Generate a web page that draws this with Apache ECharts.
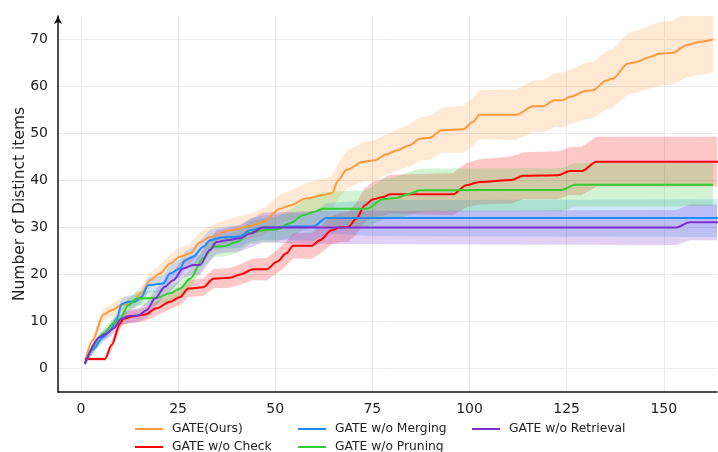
<!DOCTYPE html>
<html>
<head>
<meta charset="utf-8">
<script src="https://cdn.jsdelivr.net/npm/echarts@6/dist/echarts.min.js"></script>
<style>
  html, body { margin: 0; padding: 0; background: #fff; }
  #chart { width: 718px; height: 452px; }
</style>
</head>
<body>
<div id="chart"></div>
<script>
// [step, mean, spread]
const seriesNames = ['GATE(Ours)', 'GATE w/o Check', 'GATE w/o Merging', 'GATE w/o Pruning', 'GATE w/o Retrieval']
const seriesColors = ['#ff9a3c', '#ff0000', '#1e8cff', '#33cc33', '#7b2fcf']

const oursPts = [
  [1, 1, 0.5], [3, 6, 1], [5.8, 11.5, 1.3], [7.9, 12.4, 1.4], [10.5, 13.5, 1.5], [13, 13.9, 1.5],
  [15.6, 16, 1.6], [17.8, 18.8, 1.7], [20.3, 20.2, 1.8], [22.9, 22.3, 1.9], [25.5, 23.8, 2],
  [28.1, 24.5, 2.1], [30.6, 26.8, 2.2], [33.2, 28, 2.3], [38.3, 29.4, 2.5], [43.5, 30.3, 2.7],
  [46.9, 31.2, 2.9], [51.2, 34, 3], [53.8, 34.7, 3.1], [58.1, 36.2, 3.4], [62.3, 36.9, 3.5],
  [64.6, 37.3, 3.6], [66.2, 40, 3.8], [68.4, 42.3, 4], [72.6, 44, 4.2], [75.6, 44.3, 4.3],
  [78.7, 45.6, 4.3], [81.2, 46.4, 4.4], [84.6, 47.5, 4.5], [87.2, 48.9, 4.6], [89.8, 49.1, 4.7],
  [92.8, 50.7, 4.8], [98.4, 50.9, 5], [100.9, 52.5, 5.1], [102.6, 54, 5.2], [112, 54, 5.4],
  [116.4, 55.8, 5.5], [118.9, 55.8, 5.6], [121.9, 57.1, 5.7], [124.1, 57.1, 5.8], [125.8, 57.8, 5.8],
  [130.1, 59.1, 6], [131.8, 59.2, 6], [135.2, 61.3, 6.2], [136.9, 61.7, 6.3], [140.8, 64.9, 6.5],
  [143, 65.2, 6.6], [146.4, 66.3, 6.7], [149, 67, 6.8], [152.4, 67.2, 6.8], [155.8, 68.8, 6.9],
  [159.2, 69.5, 7], [162.7, 70, 7]
]

const noCheckPts = [
  [1, 2, 0.3], [6.2, 2, 0.4], [7.9, 5, 1], [10.1, 9.6, 1.2], [10.9, 10.6, 1.3], [13.5, 11.1, 1.3],
  [16.5, 11.5, 1.4], [19.5, 12.8, 1.5], [22.9, 14.2, 1.6], [25.5, 15.2, 1.7], [27.6, 17, 1.8],
  [31.5, 17.3, 1.9], [34.1, 19.1, 2], [38.3, 19.3, 2.1], [41, 20, 2.2], [44.3, 21.1, 2.3],
  [47.8, 21.1, 2.4], [50.4, 22.7, 2.5], [52.9, 24.5, 2.6], [54.6, 26.1, 2.7], [59.4, 26.1, 2.8],
  [61.5, 27.3, 2.9], [64.5, 29.4, 3], [66.6, 30, 3.1], [68.8, 30.1, 3.2], [70.9, 31.9, 3.4],
  [73, 34.7, 3.6], [75.2, 36, 3.8], [77.8, 36.5, 4], [79.5, 37.1, 4.1], [95.8, 37.1, 4.5],
  [99.2, 39, 4.7], [102.6, 39.7, 4.8], [110.8, 40.1, 5], [113.8, 41, 5], [122.8, 41.1, 5.1],
  [125.8, 42, 5.1], [128.8, 42, 5.2], [132.7, 44, 5.3], [165, 44, 5.3]
]

const noMergingPts = [
  [1, 1, 0.4], [3, 4, 0.8], [5.8, 6.7, 1], [7.5, 8.1, 1.1], [9.2, 10.6, 1.2], [10.5, 13.7, 1.3],
  [12.2, 14.2, 1.4], [13.9, 14.2, 1.4], [15.6, 15.2, 1.5], [17.3, 17.7, 1.6], [21.2, 18.1, 1.7],
  [22.9, 20.2, 1.8], [25.5, 21.3, 1.9], [26.8, 23, 2], [28.9, 23.8, 2], [31.5, 25.9, 2.1],
  [33.2, 27.3, 2.2], [36.6, 27.9, 2.3], [40.9, 28.1, 2.4], [43.5, 29.4, 2.5], [46.9, 30, 2.6],
  [50.4, 30, 2.7], [52.1, 30.2, 2.8], [59.8, 30.2, 3], [63.2, 32, 3.2], [75, 32, 3.8], [165, 32, 4]
]

const noPruningPts = [
  [1, 1, 0.4], [5.8, 7.4, 1], [8.3, 9.6, 1.2], [10.1, 10.6, 1.3], [12.2, 13.5, 1.4], [14.4, 14.9, 1.5],
  [19.5, 15, 1.6], [22.9, 16, 1.7], [25.5, 17, 1.8], [28.1, 19.1, 1.9], [31.5, 23.5, 2],
  [34.1, 25.9, 2.1], [36.6, 26, 2.2], [40.1, 26.9, 2.3], [43.5, 28.9, 2.4], [46.9, 29.4, 2.5],
  [50.4, 29.6, 2.7], [53.8, 30.9, 2.9], [57.2, 32.6, 3.1], [59.8, 33.3, 3.3], [62.3, 34, 3.5],
  [73.5, 34, 4], [77.8, 36, 4.3], [81.2, 36.3, 4.5], [84.6, 37.2, 4.6], [87.2, 37.9, 4.6],
  [102.6, 38, 4.6], [123.7, 38, 4.6], [127.1, 39.1, 4.6], [162.7, 39.1, 4.6]
]

const noRetrievalPts = [
  [1, 1, 0.4], [4.9, 6.7, 1], [6.6, 7.4, 1.1], [8.3, 8.5, 1.2], [10.5, 10.6, 1.3], [12.2, 11.1, 1.4],
  [14.8, 11.3, 1.5], [16.9, 12.4, 1.6], [19.1, 14.9, 1.7], [21.6, 17.4, 1.8], [23.8, 18.8, 1.9],
  [26.3, 21.3, 2], [28.9, 22, 2.1], [30.6, 22, 2.2], [33.2, 25.2, 2.4], [34.9, 26.9, 2.5],
  [37.5, 27.3, 2.6], [40.9, 27.7, 2.8], [43.5, 28.7, 3], [46.9, 30, 3.2], [60, 30, 3.5],
  [153.2, 30, 3.7], [156.7, 31.1, 3.8], [165, 31.1, 3.8]
]

const allPts = [oursPts, noCheckPts, noMergingPts, noPruningPts, noRetrievalPts]
const fontFamily = 'DejaVu Sans'

const bandSeries = (pts, color) => ({
  type: 'custom',
  clip: true,
  silent: true,
  z: 1,
  data: [[0, 0]],
  renderItem: (params, api) => {
    const upper = pts.map(p => api.coord([p[0], p[1] + p[2]]))
    const lower = pts.slice().reverse().map(p => api.coord([p[0], p[1] - p[2]]))
    return {
      type: 'polygon',
      shape: { points: upper.concat(lower) },
      style: { fill: color, opacity: 0.22 }
    }
  }
})

const lineSeries = (name, pts, color) => ({
  type: 'line',
  name: name,
  data: pts.map(p => [p[0], p[1]]),
  showSymbol: false,
  symbol: 'none',
  smooth: 0.3,
  smoothMonotone: 'x',
  z: 3,
  lineStyle: { color: color, width: 2 },
  itemStyle: { color: color }
})

// legend slots, matplotlib ncol=3 look
const legendSlots = [
  { left: 135, top: 423 }, { left: 135, top: 441 }, { left: 298, top: 423 },
  { left: 298, top: 441 }, { left: 472, top: 423 }
]

const chart = echarts.init(document.getElementById('chart'))
chart.setOption({
  animation: false,
  textStyle: { fontFamily: fontFamily },
  grid: { left: 58, right: 1, top: 16, bottom: 60, outerBoundsMode: 'none' },
  legend: seriesNames.map((name, i) => ({
    data: [name],
    left: legendSlots[i].left,
    top: legendSlots[i].top,
    padding: 0,
    icon: 'rect',
    itemWidth: 28,
    itemHeight: 2,
    textStyle: { fontFamily: fontFamily, fontSize: 12.3, color: '#222', padding: [0, 0, 0, 4] }
  })),
  xAxis: {
    type: 'value',
    min: -5.9,
    max: 163.7,
    minInterval: 25,
    maxInterval: 25,
    axisLine: { onZero: false, lineStyle: { color: '#111', width: 1.5 } },
    axisTick: { show: false },
    axisLabel: { fontFamily: fontFamily, fontSize: 14, color: '#222', margin: 10, showMinLabel: false, showMaxLabel: false },
    splitLine: { show: true, showMinLine: false, showMaxLine: false, lineStyle: { color: '#ebebeb', width: 1 } }
  },
  yAxis: {
    type: 'value',
    min: -5,
    max: 75,
    minInterval: 10,
    maxInterval: 10,
    name: 'Number of Distinct items',
    nameLocation: 'middle',
    nameGap: 30,
    nameMoveOverlap: false,
    nameTextStyle: { fontFamily: fontFamily, fontSize: 15.5, color: '#222' },
    axisLine: { show: true, onZero: false, symbol: ['none', 'arrow'], symbolSize: [6, 8], lineStyle: { color: '#111', width: 1.5 } },
    axisTick: { show: false },
    axisLabel: { fontFamily: fontFamily, fontSize: 14, color: '#222', margin: 10, showMinLabel: false, showMaxLabel: false },
    splitLine: { show: true, showMinLine: false, showMaxLine: false, lineStyle: { color: '#ebebeb', width: 1 } }
  },
  series: allPts.map((pts, i) => bandSeries(pts, seriesColors[i]))
    .concat(allPts.map((pts, i) => lineSeries(seriesNames[i], pts, seriesColors[i])))
})
</script>
</body>
</html>
